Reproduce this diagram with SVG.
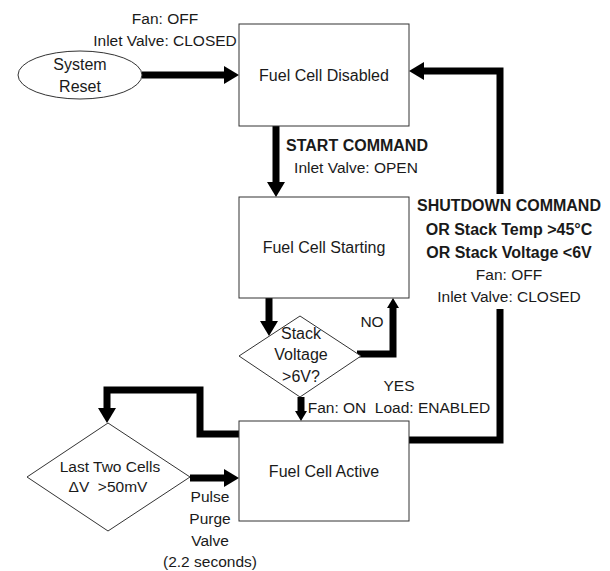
<svg xmlns="http://www.w3.org/2000/svg" width="610" height="571" viewBox="0 0 610 571">
<style>
text{font-family:"Liberation Sans",Arial,sans-serif;fill:#1a1a1a;text-anchor:middle}
.t{font-size:16px}
.l{font-size:15.5px}
.b{font-size:16px;font-weight:bold}
.box{fill:#fff;stroke:#333;stroke-width:1}
.c{fill:none;stroke:#000;stroke-width:7;stroke-linejoin:miter}
</style>
<defs>
<marker id="ah" viewBox="0 0 15 18" refX="3" refY="9" markerWidth="15" markerHeight="18" markerUnits="userSpaceOnUse" orient="auto"><path d="M0,0 L15,9 L0,18 Z" fill="#000"/></marker>
<marker id="as" viewBox="0 0 10 12" refX="2" refY="6" markerWidth="10" markerHeight="12" markerUnits="userSpaceOnUse" orient="auto"><path d="M0,0 L10,6 L0,12 Z" fill="#000"/></marker>
</defs>
<rect width="610" height="571" fill="#fff"/>
<g id="connectors">
<path class="c" d="M142,75 H227" marker-end="url(#ah)"/>
<path class="c" d="M276,126 V185" marker-end="url(#ah)"/>
<path class="c" d="M269,298 V324" marker-end="url(#ah)"/>
<path class="c" d="M357,354 H393 V306" marker-end="url(#as)"/>
<path class="c" d="M301,397 V413" marker-end="url(#as)"/>
<path class="c" d="M409,440 H500 V71 H421" marker-end="url(#ah)"/>
<path class="c" d="M239,434 H200 V390 H107 V411" marker-end="url(#ah)"/>
<path class="c" d="M190,478 H227" marker-end="url(#ah)"/>
</g>
<g id="reset">
<ellipse class="box" cx="80" cy="75" rx="62" ry="24"/>
<text class="t" x="80" y="70">System</text>
<text class="t" x="80" y="92">Reset</text>
</g>
<g id="reset-label">
<text class="l" x="165" y="24">Fan: OFF</text>
<text class="l" x="165" y="46">Inlet Valve: CLOSED</text>
</g>
<g id="disabled">
<rect class="box" x="239" y="24" width="170" height="102"/>
<text class="t" x="324" y="81">Fuel Cell Disabled</text>
</g>
<g id="start-label">
<text class="b" x="357" y="151">START COMMAND</text>
<text class="l" x="356" y="173">Inlet Valve: OPEN</text>
</g>
<g id="starting">
<rect class="box" x="239" y="197" width="170" height="101"/>
<text class="t" x="324" y="253">Fuel Cell Starting</text>
</g>
<g id="stack-check">
<polygon class="box" points="300,316 361,356 300,397 239,356"/>
<text class="t" x="301" y="339">Stack</text>
<text class="t" x="301" y="360">Voltage</text>
<text class="t" x="301" y="382">&gt;6V?</text>
</g>
<g id="no-label"><text class="l" x="372" y="327">NO</text></g>
<g id="yes-label">
<text class="l" x="399" y="391">YES</text>
<text class="l" x="399" y="413">Fan: ON&#160; Load: ENABLED</text>
</g>
<g id="shutdown-label">
<rect x="414" y="194" width="192" height="115" fill="#fff"/>
<text class="b" x="509" y="211">SHUTDOWN COMMAND</text>
<text class="b" x="509" y="235">OR Stack Temp &gt;45°C</text>
<text class="b" x="509" y="258">OR Stack Voltage &lt;6V</text>
<text class="l" x="509" y="280">Fan: OFF</text>
<text class="l" x="509" y="302">Inlet Valve: CLOSED</text>
</g>
<g id="active">
<rect class="box" x="239" y="421" width="170" height="100"/>
<text class="t" x="324" y="477">Fuel Cell Active</text>
</g>
<g id="cells-check">
<polygon class="box" points="108,423 190,477 108,531 27,477"/>
<text class="l" x="110" y="472">Last Two Cells</text>
<text class="l" x="108" y="492">ΔV&#160; &gt;50mV</text>
</g>
<g id="purge-label">
<text class="l" x="210" y="502">Pulse</text>
<text class="l" x="210" y="524">Purge</text>
<text class="l" x="210" y="546">Valve</text>
<text class="l" x="210" y="567">(2.2 seconds)</text>
</g>
</svg>
